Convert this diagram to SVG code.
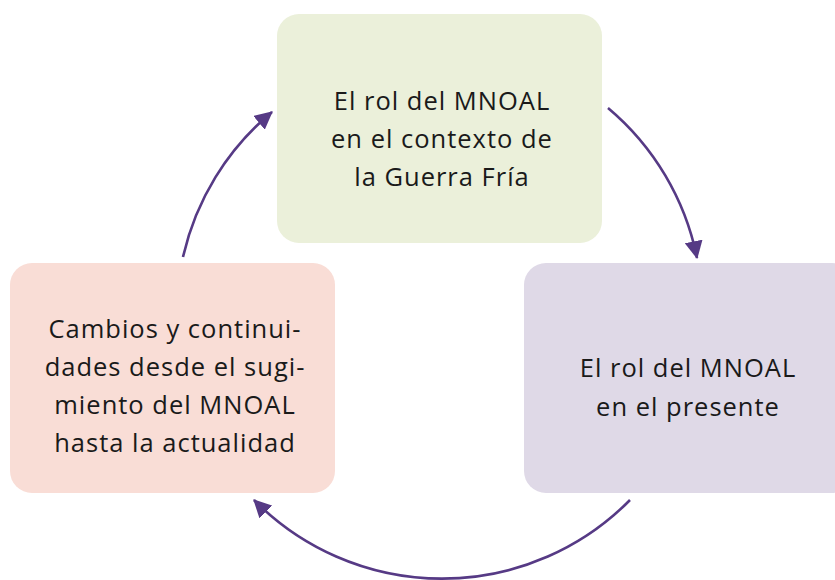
<svg xmlns="http://www.w3.org/2000/svg" width="835" height="580" viewBox="0 0 835 580">
<style>
.t{font-family:"Open Sans","Noto Sans",sans-serif;font-size:25.5px;letter-spacing:1px;fill:#1a1a1a;text-anchor:middle}
.c{fill:none;stroke:#563a85;stroke-width:2.6}
</style>
<defs>
<marker id="ah" markerUnits="userSpaceOnUse" markerWidth="18" markerHeight="18" viewBox="0 0 16 16" refX="15" refY="8" orient="auto">
<path d="M0,0 L16,8 L0,16 Z" fill="#563a85"/>
</marker>
</defs>
<rect width="835" height="580" fill="#fff"/>
<g id="n1">
<rect x="277" y="14" width="325" height="229" rx="22" fill="#ebf0da"/>
<text class="t" x="442" y="110">El rol del MNOAL</text>
<text class="t" x="442" y="148">en el contexto de</text>
<text class="t" x="442" y="186">la Guerra Fría</text>
</g>
<g id="n2">
<rect x="524" y="263" width="330" height="230" rx="22" fill="#dfd9e7"/>
<text class="t" x="688" y="377">El rol del MNOAL</text>
<text class="t" x="688" y="416">en el presente</text>
</g>
<g id="n3">
<rect x="10" y="263" width="325" height="230" rx="22" fill="#f9ddd6"/>
<text class="t" x="175" y="338">Cambios y continui-</text>
<text class="t" x="175" y="376">dades desde el sugi-</text>
<text class="t" x="175" y="414">miento del MNOAL</text>
<text class="t" x="175" y="452">hasta la actualidad</text>
</g>
<g id="connectors">
<path class="c" d="M183,257 A264,264 0 0 1 272,112" marker-end="url(#ah)"/>
<path class="c" d="M608,108 A264,264 0 0 1 697,258" marker-end="url(#ah)"/>
<path class="c" d="M630,500 A264,264 0 0 1 254,500" marker-end="url(#ah)"/>
</g>
</svg>
